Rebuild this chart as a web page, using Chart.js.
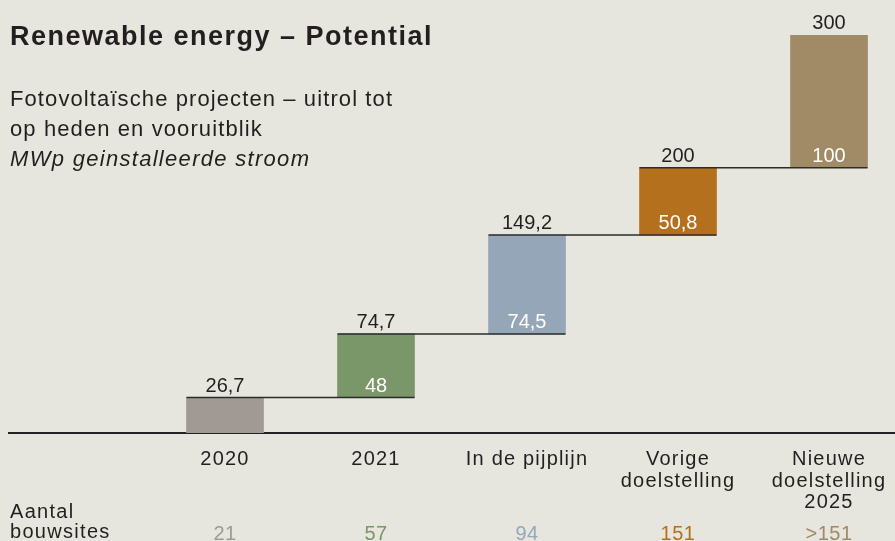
<!DOCTYPE html>
<html>
<head>
<meta charset="utf-8">
<script src="https://cdn.jsdelivr.net/npm/chart.js@4"></script>
<style>
  html, body { margin: 0; padding: 0; background: #e6e5de; }
  #wrap { position: relative; width: 895px; height: 541px; overflow: hidden; }
  #wrap canvas { position: absolute; left: 0; top: 0; }
  .head { position: absolute; left: 10px; color: #231f20; font-family: "Liberation Sans", Arial, sans-serif; white-space: nowrap; }
  #title { top: 23px; font-size: 27px; line-height: 27px; font-weight: bold; letter-spacing: 1.5px; }
  #sub { top: 84px; font-size: 22px; line-height: 30px; letter-spacing: 1.1px; }
  #sub i { letter-spacing: 1.3px; }
</style>
</head>
<body>
<div id="wrap">
  <canvas id="pvChart"></canvas>
  <div class="head" id="title">Renewable energy – Potential</div>
  <div class="head" id="sub">Fotovoltaïsche projecten – uitrol tot<br>op heden en vooruitblik<br><i>MWp geinstalleerde stroom</i></div>
</div>
<script>
  const categories = [["2020"], ["2021"], ["In de pijplijn"], ["Vorige", "doelstelling"], ["Nieuwe", "doelstelling", "2025"]];
  const increments = [26.7, 48, 74.5, 50.8, 100];
  const totals = [26.7, 74.7, 149.2, 200, 300];
  const sites = ["21", "57", "94", "151", ">151"];
  const colors = ["#a19a94", "#7a9769", "#95a6b8", "#b5701d", "#a18a66"];

  const ink = "#231f20";
  const fontFamily = '"Liberation Sans", Arial, sans-serif';
  const fmt = (v) => String(v).replace(".", ",");

  // waterfall: each bar floats from the previous total up to its own total
  const bars = totals.map((t, i) => ({ x: i, y: [i === 0 ? 0 : totals[i - 1], t] }));

  const waterfallLabels = {
    id: "waterfallLabels",
    beforeDraw(chart) {
      chart.ctx.letterSpacing = "1.2px";
    },
    afterDatasetsDraw(chart) {
      const ctx = chart.ctx;
      const y = chart.scales.y;
      const pts = chart.getDatasetMeta(0).data;
      ctx.save();
      ctx.letterSpacing = "0px";

      // connector lines: from bar i left edge to bar i+1 right edge
      ctx.strokeStyle = "#2b2b2b";
      ctx.lineWidth = 1.5;
      for (let i = 0; i < pts.length - 1; i++) {
        const yy = y.getPixelForValue(totals[i]);
        ctx.beginPath();
        ctx.moveTo(pts[i].x - pts[i].width / 2, yy);
        ctx.lineTo(pts[i + 1].x + pts[i + 1].width / 2, yy);
        ctx.stroke();
      }

      ctx.font = "20px " + fontFamily;
      ctx.textAlign = "center";
      ctx.textBaseline = "alphabetic";
      pts.forEach((p, i) => {
        ctx.fillStyle = ink;
        ctx.fillText(fmt(totals[i]), p.x, y.getPixelForValue(totals[i]) - 6);
        if (i > 0) {
          ctx.fillStyle = "#ffffff";
          ctx.fillText(fmt(increments[i]), p.x, y.getPixelForValue(totals[i - 1]) - 6);
        }
      });
      ctx.restore();
    },
    afterDraw(chart) {
      const ctx = chart.ctx;
      const x = chart.scales.x;
      ctx.save();
      ctx.font = "20px " + fontFamily;
      ctx.textBaseline = "alphabetic";
      ctx.letterSpacing = "1.3px";
      ctx.fillStyle = ink;
      ctx.textAlign = "left";
      ctx.fillText("Aantal", 10, 518);
      ctx.fillText("bouwsites", 10, 538);
      ctx.letterSpacing = "0.5px";
      ctx.textAlign = "center";
      sites.forEach((s, i) => {
        ctx.fillStyle = colors[i];
        ctx.fillText(s, x.getPixelForValue(i), 540);
      });
      ctx.restore();
    },
  };

  new Chart(document.getElementById("pvChart"), {
    type: "bar",
    data: {
      datasets: [
        {
          data: bars,
          backgroundColor: colors,
          borderWidth: 0,
          barThickness: 77,
        },
      ],
    },
    options: {
      responsive: true,
      maintainAspectRatio: false,
      animation: false,
      layout: { padding: { left: 9, right: 0, top: 35, bottom: 0 } },
      plugins: {
        legend: { display: false },
        tooltip: { enabled: false },
      },
      scales: {
        x: {
          type: "linear",
          offset: false,
          min: -1.4305,
          max: 4.437,
          afterFit: (scale) => {
            scale.height = 108;
            scale.paddingLeft = 0;
            scale.paddingRight = 0;
          },
          grid: { display: false, drawTicks: false, offset: false },
          border: { display: true, color: "#222222", width: 2 },
          ticks: {
            stepSize: 1,
            includeBounds: false,
            autoSkip: false,
            maxRotation: 0,
            padding: 16,
            color: ink,
            font: { family: fontFamily, size: 20, lineHeight: 1.075 },
            callback: (v) => (Number.isInteger(v) && categories[v] ? categories[v] : ""),
          },
        },
        y: {
          display: false,
          min: 0,
          max: 300,
        },
      },
    },
    plugins: [waterfallLabels],
  });
</script>
</body>
</html>
